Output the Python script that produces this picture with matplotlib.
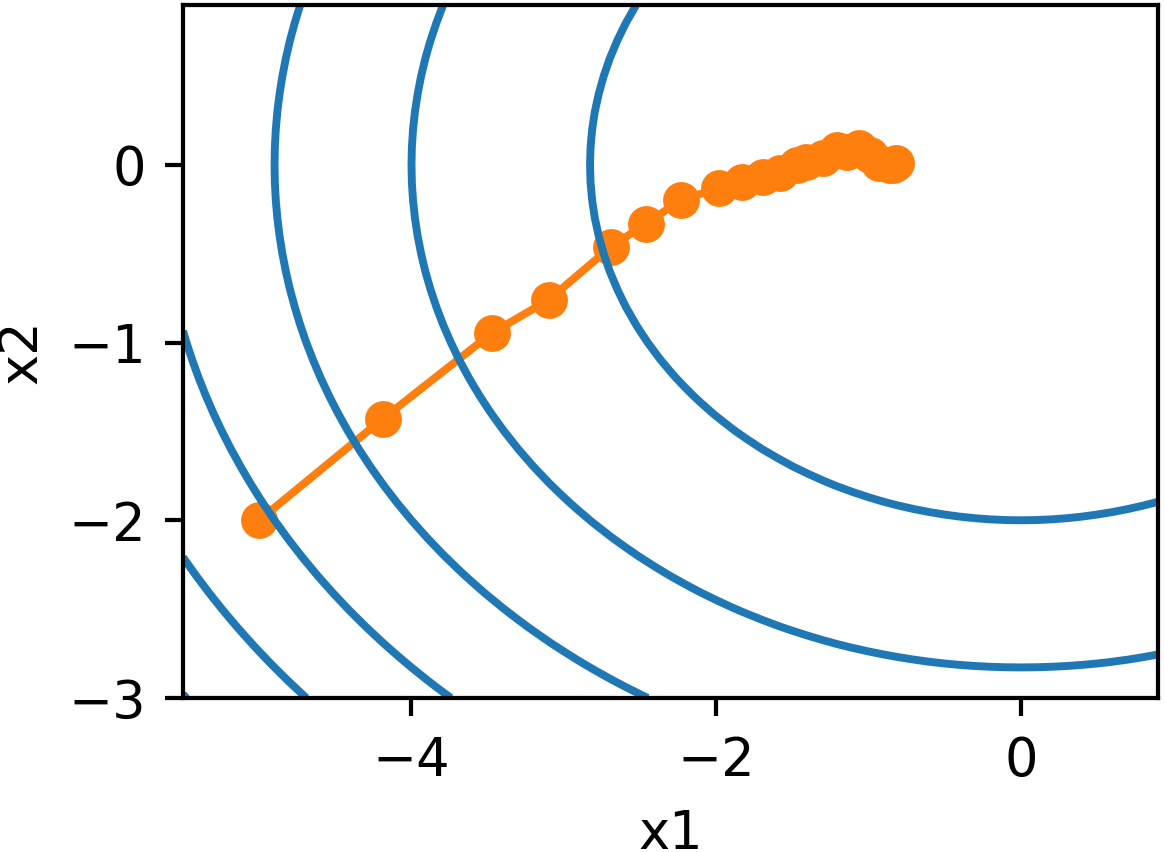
import numpy as np
import matplotlib
matplotlib.use("Agg")
import matplotlib.pyplot as plt

# trajectory (x1, x2)
traj_x1 = [-5.0, -4.19, -3.47, -3.10, -2.69, -2.46, -2.23, -1.98, -1.83, -1.69,
           -1.58, -1.47, -1.41, -1.30, -1.21, -1.14, -1.06, -0.99, -0.93, -0.86,
           -0.84, -0.82]
traj_x2 = [-2.0, -1.43, -0.945, -0.76, -0.46, -0.33, -0.197, -0.13, -0.096, -0.068,
           -0.045, 0.0, 0.017, 0.04, 0.084, 0.073, 0.096, 0.056, 0.011, 0.0,
           0.0, 0.01]

# grid for the objective contour
x1_grid = np.arange(-5.5, 1.0, 0.1)
x2_grid = np.arange(-3.0, 1.0, 0.1)


def f_2d(x1, x2):
    return x1 ** 2 + 2 * x2 ** 2


dpi = 379
fig = plt.figure(figsize=(1164 / dpi, 852 / dpi), dpi=dpi)
ax = fig.add_axes([0.1572, 0.1808, 0.9948 - 0.1572, 0.9941 - 0.1808])

ax.plot(traj_x1, traj_x2, '-o', color='#ff7f0e')
X1, X2 = np.meshgrid(x1_grid, x2_grid)
ax.contour(X1, X2, f_2d(X1, X2), colors='#1f77b4')

ax.set_xlabel('x1')
ax.set_ylabel('x2')

fig.savefig('out.png', dpi=dpi)
